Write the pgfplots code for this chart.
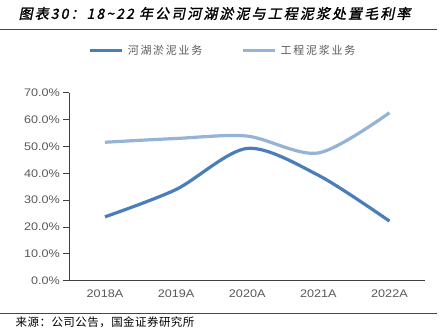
\documentclass[border=0pt]{standalone}
\usepackage{fontspec}
\usepackage{pgfplots}
\pgfplotsset{compat=1.18}
\setmainfont{Liberation Sans}
\newfontfamily\tickfont{Liberation Sans}[FakeStretch=1.15]
\newfontfamily\cjk{Noto Sans CJK SC}
\newfontfamily\cjklegend{Noto Sans CJK SC}[LetterSpace=16]
\newfontfamily\cjksource{Noto Sans CJK SC}[LetterSpace=4]
\newfontfamily\cjktitle{Noto Sans CJK SC}[FakeSlant=0.2,FakeBold=1.5,LetterSpace=15]
\definecolor{darkblue}{HTML}{4A7EBB}
\definecolor{lightblue}{HTML}{95B3D7}
\definecolor{rulecol}{HTML}{1F4E79}
\definecolor{txt}{HTML}{595959}
\definecolor{axisgray}{HTML}{404040}
\begin{document}
\begin{tikzpicture}[x=1pt,y=1pt]
\fill[white] (0,0) rectangle (445,336);
\draw[rulecol, line width=1pt] (0,306) -- (437,306);
\draw[rulecol, line width=1pt] (0,22) -- (437,22);
\node[anchor=west, inner sep=0pt] at (18,322.5) {\cjktitle\fontsize{14}{15}\selectfont 图表30：18\textasciitilde22 年公司河湖淤泥与工程泥浆处置毛利率};
\node[anchor=west, inner sep=0pt, text=black] at (15,13) {\cjksource\fontsize{11.5}{12}\selectfont 来源：公司公告，国金证券研究所};
\begin{axis}[
  at={(69pt,55pt)}, anchor=south west, scale only axis,
  width=356pt, height=188pt,
  xmin=-0.5, xmax=4.5, ymin=0, ymax=70,
  axis x line=bottom, axis y line=left,
  axis line style={-, draw=axisgray, line width=1pt},
  xtick={0,1,2,3,4},
  xticklabels={2018A,2019A,2020A,2021A,2022A},
  xtick style={draw=none},
  ytick={0,10,...,70},
  ytick style={draw=axisgray, line width=0.8pt},
  major tick length=6pt, tick align=outside,
  /pgf/number format/assume math mode=true,
  yticklabel={\pgfmathprintnumber[fixed,fixed zerofill,precision=1]{\tick}\%},
  ticklabel style={font=\tickfont\fontsize{11}{12}\selectfont, text=txt},
  legend style={at={(0.0534,1.225)}, anchor=west, draw=none, fill=none, inner sep=0pt,
    nodes={inner sep=0pt, text=txt, font=\cjklegend\fontsize{11}{12}\selectfont},
    /tikz/every even column/.append style={column sep=39pt},
    /tikz/every odd column/.append style={column sep=4pt}},
  legend columns=2,
  legend image code/.code={\draw[#1] (0pt,0pt) -- (32pt,0pt);},
]
\addplot[darkblue, line width=3.2pt, smooth] coordinates {(0,23.8) (1,34.0) (2,49.3) (3,39.3) (4,22.2)};
\addlegendentry{河湖淤泥业务}
\addplot[lightblue, line width=3.2pt, smooth] coordinates {(0,51.6) (1,53.0) (2,53.9) (3,47.6) (4,62.6)};
\addlegendentry{工程泥浆业务}
\end{axis}
\end{tikzpicture}
\end{document}
